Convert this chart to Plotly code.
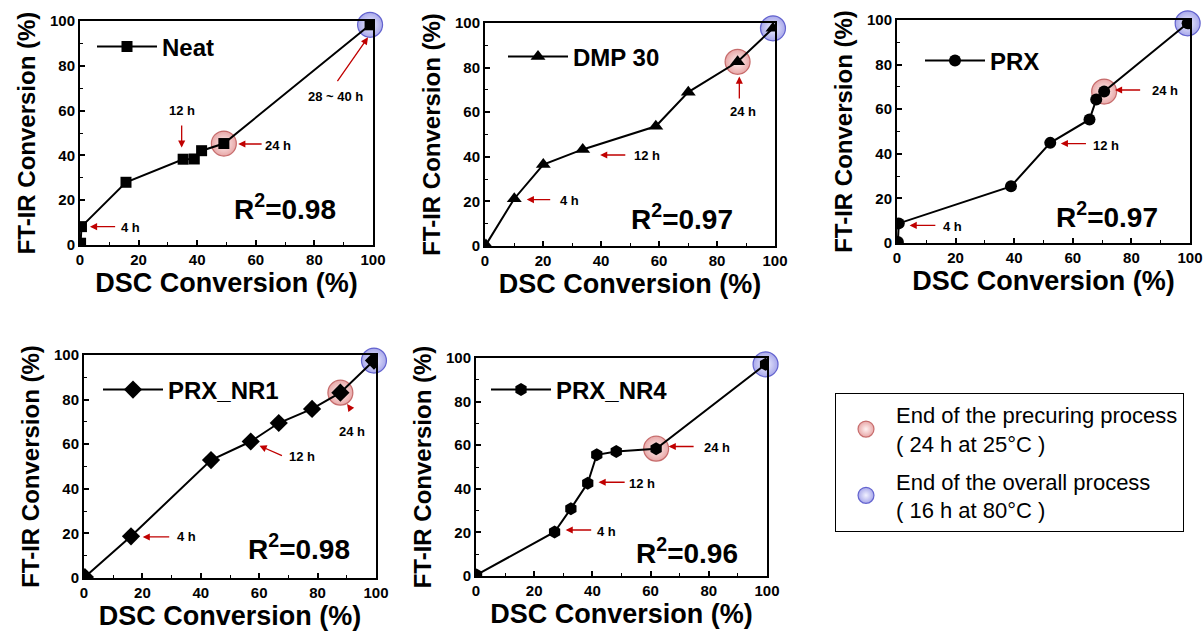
import plotly.graph_objects as go

# ---------------- data ----------------
panel_names = ["Neat", "DMP 30", "PRX", "PRX_NR1", "PRX_NR4"]
r2_values = ["0.98", "0.97", "0.97", "0.98", "0.96"]

neat_x = [0.2, 0.5, 15.7, 35.2, 39.0, 41.5, 49.1, 99.0]
neat_y = [0.8, 8.2, 28.0, 38.3, 38.4, 42.1, 45.3, 98.3]

dmp_x = [0.3, 10.1, 20.1, 33.7, 58.9, 70.1, 87.1, 99.3]
dmp_y = [0.5, 21.2, 36.5, 43.3, 53.7, 69.0, 82.6, 97.6]

prx_x = [0.3, 0.6, 38.9, 52.3, 65.7, 68.0, 70.7, 99.2]
prx_y = [0.5, 8.8, 25.4, 44.9, 55.4, 64.3, 67.9, 98.5]

nr1_x = [0.3, 16.1, 43.5, 57.1, 66.7, 78.1, 87.8, 99.3]
nr1_y = [0.4, 18.7, 52.9, 61.2, 69.5, 75.8, 83.1, 97.5]

nr4_x = [0.2, 27.0, 32.6, 38.4, 41.5, 48.2, 61.9, 99.5]
nr4_y = [0.5, 20.2, 30.9, 42.6, 55.6, 57.1, 58.4, 97.1]

idx_24h = [6, 6, 6, 6, 6]
idx_end = [7, 7, 7, 7, 7]

series_x = [neat_x, dmp_x, prx_x, nr1_x, nr4_x]
series_y = [neat_y, dmp_y, prx_y, nr1_y, nr4_y]

ticks = [0, 20, 40, 60, 80, 100]
legend_precure = "End of the precuring process<br>( 24 h at 25°C )"
legend_overall = "End of the overall process<br>( 16 h at 80°C )"

# ---------------- styles / layout ----------------
FONT = "Arial, Liberation Sans, sans-serif"
symbols = ["square", "triangle-up", "circle", "diamond", "hexagon"]
msizes = [11, 13, 12, 14, 13]

W, H = 1204, 638
boxes = [(80, 373, 21, 245), (485, 775, 23, 246), (897, 1190, 20, 243),
         (84, 376, 355, 578), (476, 767, 358, 576)]
legend_pos = [(92, 47), (503, 57), (920, 61), (98, 390), (486, 390)]

arrows = [
    [(3.4, 8.2, 12.5, 8.2), (34.7, 43.5, 34.7, 54.0), (54.0, 45.1, 62.5, 45.1), (98.3, 92.7, 87.5, 72.5)],
    [(14.4, 20.8, 23.0, 20.8), (39.7, 40.8, 48.9, 40.8), (87.7, 76.0, 87.7, 65.5)],
    [(4.3, 7.9, 13.6, 7.9), (55.9, 44.6, 65.0, 44.6), (74.4, 68.6, 83.5, 68.6)],
    [(20.1, 18.4, 29.7, 18.4), (60.1, 59.3, 68.3, 54.6), (90.1, 78.0, 91.8, 74.9)],
    [(30.8, 21.1, 40.1, 21.1), (42.1, 43.0, 51.6, 43.0), (66.2, 59.4, 75.3, 59.4)],
]
labels = [
    [("4 h", 17.4, 7.7), ("12 h", 34.7, 60.0), ("24 h", 67.6, 44.6), ("28 ~ 40 h", 87.3, 66.2)],
    [("4 h", 29.3, 20.5), ("12 h", 55.7, 40.5), ("24 h", 89.1, 60.3)],
    [("4 h", 19.1, 7.6), ("12 h", 71.4, 43.9), ("24 h", 91.5, 68.3)],
    [("4 h", 35.2, 18.4), ("12 h", 74.6, 54.6), ("24 h", 91.8, 65.6)],
    [("4 h", 45.0, 20.4), ("12 h", 57.0, 42.6), ("24 h", 82.8, 59.0)],
]
r2_pos = [(69.9, 17.1), (67.8, 13.0), (71.6, 12.4), (73.5, 13.9), (72.5, 11.6)]

pink = dict(color="rgba(222,130,130,0.70)", line=dict(color="rgba(190,90,90,0.85)", width=1.2),
            gradient=dict(type="radial", color="rgba(255,235,235,0.70)"))
blue = dict(color="rgba(130,130,225,0.70)", line=dict(color="rgba(80,80,200,0.85)", width=1.2),
            gradient=dict(type="radial", color="rgba(235,235,255,0.70)"))

fig = go.Figure()
annotations = []
layout = dict(width=W, height=H, margin=dict(l=0, r=0, t=0, b=0, autoexpand=False), autosize=False,
              paper_bgcolor="white", plot_bgcolor="white",
              font=dict(family=FONT, color="black"))

for i in range(5):
    n = i + 1
    xs = "x" if n == 1 else f"x{n}"
    ys = "y" if n == 1 else f"y{n}"
    lg = "legend" if n == 1 else f"legend{n}"
    x, y = series_x[i], series_y[i]
    k24, ke = idx_24h[i], idx_end[i]

    fig.add_trace(go.Scatter(x=[x[k24]], y=[y[k24]], mode="markers", xaxis=xs, yaxis=ys,
                             marker=dict(size=25, **pink), cliponaxis=False,
                             name=legend_precure, legend="legend6", showlegend=(i == 0),
                             legendgroup="pre"))
    fig.add_trace(go.Scatter(x=[x[ke]], y=[y[ke]], mode="markers", xaxis=xs, yaxis=ys,
                             marker=dict(size=25, **blue), cliponaxis=False,
                             name=legend_overall, legend="legend6", showlegend=(i == 0),
                             legendgroup="all"))
    fig.add_trace(go.Scatter(x=x, y=y, mode="lines+markers", xaxis=xs, yaxis=ys,
                             name=panel_names[i], legend=lg, showlegend=True,
                             line=dict(color="black", width=2),
                             marker=dict(symbol=symbols[i], size=msizes[i], color="black"),
                             cliponaxis=True))

    l, r, t, b = boxes[i]
    common = dict(range=[0, 100], tickvals=ticks, automargin=False,
                  ticks="inside", ticklen=5, tickwidth=1.5, tickcolor="black",
                  minor=dict(ticks="inside", ticklen=3, tickwidth=1, tickcolor="black", dtick=10),
                  showline=True, linewidth=2, linecolor="black", mirror=True,
                  showgrid=False, zeroline=False,
                  tickfont=dict(family=FONT, size=15, weight="bold", color="black"))
    ax = dict(domain=[l / W, r / W], anchor=ys,
              title=dict(text="DSC Conversion (%)", standoff=4,
                         font=dict(family=FONT, size=27, weight="bold", color="black")),
              **common)
    ay = dict(domain=[1 - b / H, 1 - t / H], anchor=xs,
              title=dict(text="FT-IR Conversion (%)", standoff=8,
                         font=dict(family=FONT, size=24, weight="bold", color="black")),
              **common)
    layout["xaxis" if n == 1 else f"xaxis{n}"] = ax
    layout["yaxis" if n == 1 else f"yaxis{n}"] = ay

    lx, lyy = legend_pos[i]
    layout[lg] = dict(x=lx / W, y=1 - lyy / H, xanchor="left", yanchor="middle",
                      xref="paper", yref="paper", bgcolor="rgba(0,0,0,0)",
                      font=dict(family=FONT, size=24, weight="bold", color="black"),
                      itemwidth=60)

    for (hx, hy, tx, ty) in arrows[i]:
        annotations.append(dict(x=hx, y=hy, ax=tx, ay=ty, xref=xs, yref=ys, axref=xs, ayref=ys,
                                text="", showarrow=True, arrowhead=2, arrowsize=1.1,
                                arrowwidth=1.3, arrowcolor="#c00000"))
    for (txt, tx, ty) in labels[i]:
        annotations.append(dict(x=tx, y=ty, xref=xs, yref=ys, text=txt, showarrow=False,
                                font=dict(family=FONT, size=13, weight="bold", color="black")))
    rx, ry = r2_pos[i]
    annotations.append(dict(x=rx, y=ry, xref=xs, yref=ys,
                            text=f"R<sup>2</sup>={r2_values[i]}", showarrow=False,
                            font=dict(family=FONT, size=28, weight="bold", color="black")))

layout["legend6"] = dict(x=835 / W, y=1 - 393 / H, xanchor="left", yanchor="top",
                         xref="paper", yref="paper", bgcolor="white",
                         bordercolor="black", borderwidth=1, tracegroupgap=6, itemwidth=50,
                         font=dict(family=FONT, size=22, color="black"))
layout["annotations"] = annotations
fig.update_layout(**layout)

fig.write_html("out.html")
